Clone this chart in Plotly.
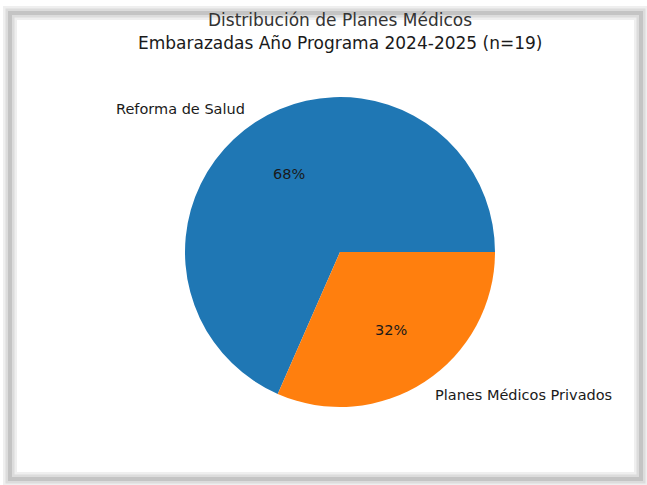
import math
import plotly.graph_objects as go

labels = ["Reforma de Salud", "Planes Médicos Privados"]
counts = [13, 6]
colors = ["#1f77b4", "#ff7f0e"]
title_lines = ["Distribución de Planes Médicos", "Embarazadas Año Programa 2024-2025 (n=19)"]

W, H = 647, 485
cx, cy, r = 340, 252, 155  # pie centre / radius in pixels
total = sum(counts)

fig = go.Figure()

# matplotlib default: first wedge starts at 3 o'clock, going counterclockwise
fig.add_trace(
    go.Pie(
        labels=labels,
        values=counts,
        marker=dict(colors=colors, line=dict(width=0)),
        sort=False,
        direction="counterclockwise",
        rotation=90 - 360 * counts[0] / total,
        textinfo="none",
        hoverinfo="label+percent",
        showlegend=False,
        domain=dict(x=[(cx - r) / W, (cx + r) / W], y=[1 - (cy + r) / H, 1 - (cy - r) / H]),
    )
)

# pct at 0.6r, name at 1.1r along the mid angle
start = 0.0
for lab, v in zip(labels, counts):
    frac = v / total
    mid = math.radians((start + frac / 2) * 360)
    start += frac
    dx, dy = math.cos(mid), math.sin(mid)
    fig.add_annotation(
        x=(cx + 0.6 * r * dx) / W, y=1 - (cy - 0.6 * r * dy) / H,
        xref="paper", yref="paper", showarrow=False,
        text=f"{frac * 100:.0f}%", font=dict(size=14.5, color="#1a1a1a"),
        xanchor="center", yanchor="middle",
    )
    fig.add_annotation(
        x=(cx + 1.1 * r * dx) / W, y=1 - (cy - 1.1 * r * dy) / H,
        xref="paper", yref="paper", showarrow=False,
        text=lab, font=dict(size=14.5, color="#1a1a1a"),
        xanchor="left" if dx > 0 else "right", yanchor="middle",
    )

# title, one annotation per line for matplotlib-like spacing
for i, line in enumerate(title_lines):
    fig.add_annotation(
        x=340 / W, y=1 - (20.5 + 22 * i) / H, xref="paper", yref="paper", showarrow=False,
        text=line, font=dict(size=17, color="#333333" if i == 0 else "#1a1a1a"),
        xanchor="center", yanchor="middle",
    )

# soft grey frame (screenshot shadow)
for w, c in [(14, "#efefef"), (9, "#dcdcdc"), (4, "#c4c4c4")]:
    fig.add_shape(
        type="rect", xref="paper", yref="paper",
        x0=10 / W, x1=641 / W, y0=1 - 479 / H, y1=1 - 13 / H,
        line=dict(color=c, width=w), layer="below",
    )

fig.update_layout(
    width=W, height=H,
    margin=dict(l=0, r=0, t=0, b=0),
    paper_bgcolor="white",
    font=dict(family="DejaVu Sans", color="#1a1a1a"),
)

fig.write_html(
    "out.html",
    config={"displayModeBar": False},
    post_script="document.body.style.margin='0';",
)
